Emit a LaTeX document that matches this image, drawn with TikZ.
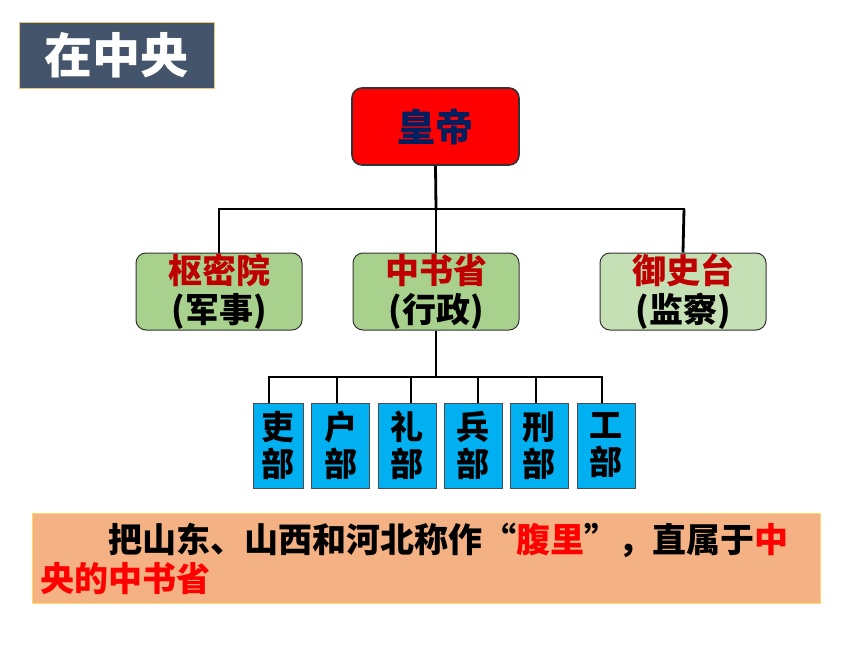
\documentclass[tikz,border=0pt]{standalone}
\usepackage{fontspec}
\setmainfont{Noto Sans CJK SC}
\newfontfamily\cjk{Noto Sans CJK SC}
\definecolor{titlebg}{HTML}{44546A}
\definecolor{titlebd}{HTML}{E8C878}
\definecolor{empred}{HTML}{FF0000}
\definecolor{navy}{HTML}{002060}
\definecolor{grn}{HTML}{A9D18E}
\definecolor{lgrn}{HTML}{C5E0B4}
\definecolor{dred}{HTML}{C00000}
\definecolor{sky}{HTML}{00B0F0}
\definecolor{peach}{HTML}{F4B183}
\definecolor{peachbd}{HTML}{FFD966}
\begin{document}
\begin{tikzpicture}[x=1pt,y=-1pt,
  conn/.style={draw=black,line width=2.8pt},
  rbox/.style={draw=black!80,line width=1pt,rounded corners=10pt,minimum width=166pt,minimum height=77pt,inner sep=0pt,align=center},
  minbox/.style={draw=black!70,line width=0.8pt,fill=sky,minimum height=85pt,inner sep=0pt,align=center,font=\cjk\bfseries\fontsize{33}{37}\selectfont},
]
\useasboundingbox (0,0) rectangle (860,645);
% title
\node[draw=titlebd,line width=0.8pt,fill=titlebg,minimum width=195pt,minimum height=66pt,inner sep=0pt,text=white,font=\cjk\bfseries\fontsize{48}{50}\selectfont] (title) at (117,55) {在中央};
% emperor
\node[rbox,fill=empred,minimum width=167pt,line width=1.6pt,text=navy,font=\cjk\bfseries\fontsize{38}{40}\selectfont] (emp) at (435.5,126.5) {皇帝};
% second row
\node[rbox,fill=grn,font=\cjk\bfseries\fontsize{34}{39}\selectfont] (smy) at (219,291.5) {\textcolor{dred}{枢密院}\\(军事)};
\node[rbox,fill=grn,font=\cjk\bfseries\fontsize{34}{39}\selectfont] (zsx) at (436,291.5) {\textcolor{dred}{中书省}\\(行政)};
\node[rbox,fill=lgrn,font=\cjk\bfseries\fontsize{34}{39}\selectfont] (ysd) at (683,291.5) {\textcolor{dred}{御史台}\\(监察)};
% ministries
\node[minbox,minimum width=50pt] (m1) at (278,445.5) {吏\\部};
\node[minbox,minimum width=58pt] (m2) at (340.5,445.5) {户\\部};
\node[minbox,minimum width=58pt] (m3) at (407,445.5) {礼\\部};
\node[minbox,minimum width=58pt] (m4) at (473,445.5) {兵\\部};
\node[minbox,minimum width=58pt] (m5) at (539,445.5) {刑\\部};
\node[minbox,minimum width=58pt] (m6) at (606,445.5) {工\\部};
% connectors top
\coordinate (j1) at (436,209);
\coordinate (bl) at (219,209);
\coordinate (br) at (684,209);
\draw[conn] (emp.south) -- (j1);
\draw[conn] ([xshift=-1.4pt]bl) -- ([xshift=1.4pt]br);
\draw[conn] (bl) -- (smy.north);
\draw[conn] (j1) -- (zsx.north);
\draw[conn] (br) -- (ysd.north);
% connectors bottom
\coordinate (j2) at (436,377);
\coordinate (b1) at (269,377);
\coordinate (b2) at (337,377);
\coordinate (b3) at (411,377);
\coordinate (b4) at (478,377);
\coordinate (b5) at (536,377);
\coordinate (b6) at (602,377);
\draw[conn] (zsx.south) -- (j2);
\draw[conn] ([xshift=-1.4pt]b1) -- ([xshift=1.4pt]b6);
\draw[conn] (b1) -- (b1 |- m1.north);
\draw[conn] (b2) -- (b2 |- m2.north);
\draw[conn] (b3) -- (b3 |- m3.north);
\draw[conn] (b4) -- (b4 |- m4.north);
\draw[conn] (b5) -- (b5 |- m5.north);
\draw[conn] (b6) -- (b6 |- m6.north);
% bottom text
\node[draw=peachbd,line width=0.8pt,fill=peach,minimum width=788pt,minimum height=90pt,inner sep=0pt] (note) at (426,558) {};
\node[anchor=north west,inner sep=0pt,text width=780pt,align=left,font=\cjk\bfseries\fontsize{34}{39}\selectfont] (notetext) at (40,523) {\hspace*{68pt}把山东、山西和河北称作“\textcolor{empred}{腹里}”，直属于\textcolor{empred}{中}\\\textcolor{empred}{央的中书省}};
\end{tikzpicture}
\end{document}
